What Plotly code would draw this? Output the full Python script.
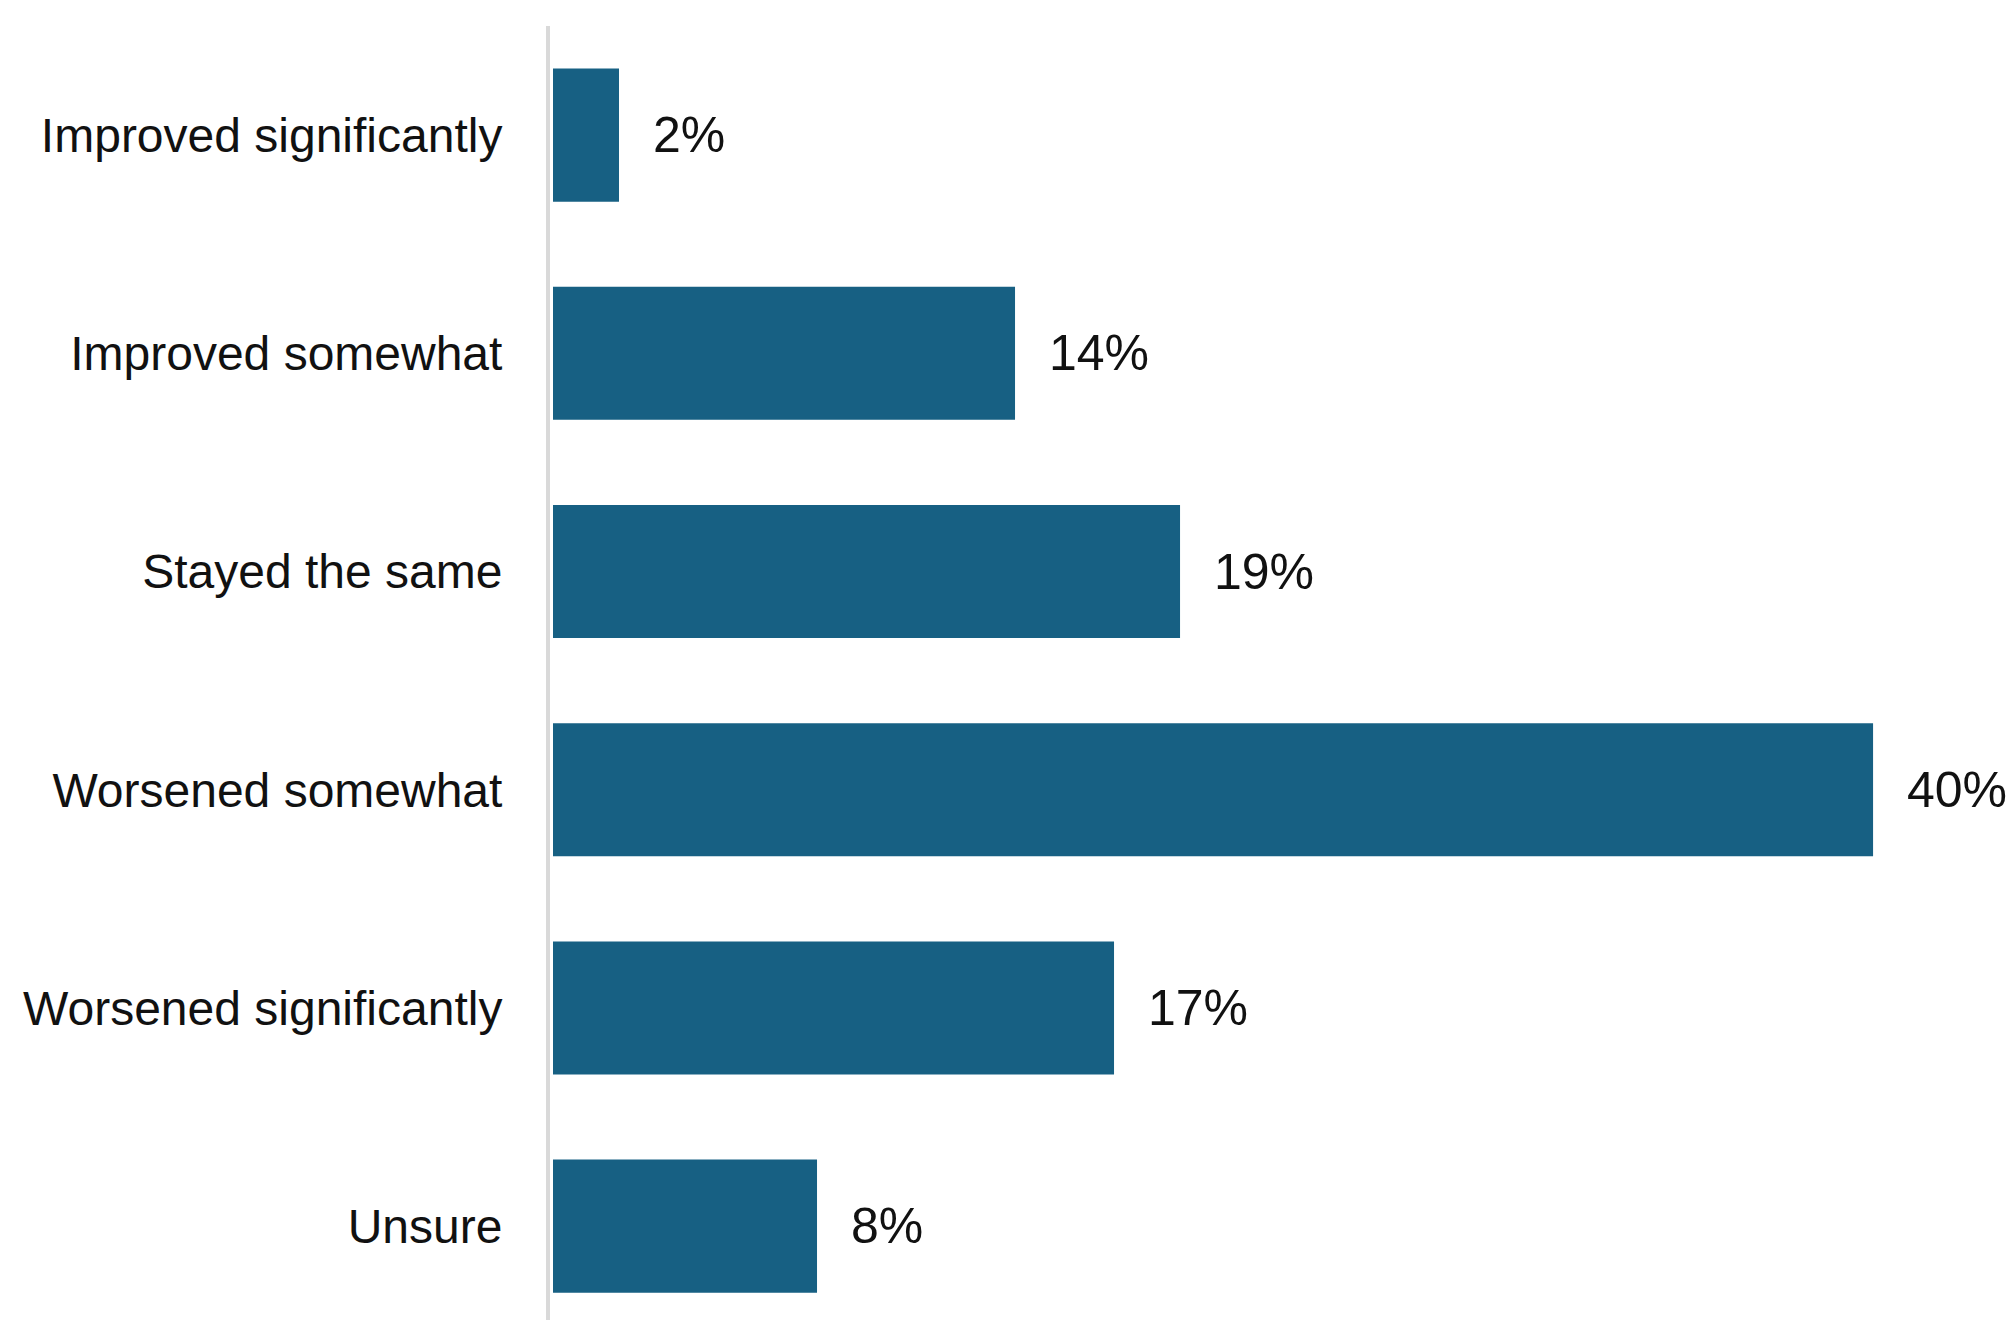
import plotly.graph_objects as go

categories = ["Improved significantly", "Improved somewhat", "Stayed the same",
              "Worsened somewhat", "Worsened significantly", "Unsure"]
values = [2, 14, 19, 40, 17, 8]
labels = [f"{v}%" for v in values]

BAR_COLOR = "#176083"
FONT = "Liberation Sans"

fig = go.Figure()
fig.add_trace(go.Bar(
    x=values, y=categories, orientation="h",
    marker=dict(color=BAR_COLOR, line=dict(width=0)),
    hoverinfo="skip",
))

for c, v, t in zip(categories, values, labels):
    fig.add_annotation(x=v, y=c, text=t, showarrow=False, xanchor="left",
                       yanchor="middle", xshift=32,
                       font=dict(family=FONT, size=50, color="#111111"))

fig.update_layout(
    width=2013, height=1320,
    margin=dict(l=550, r=0, t=26, b=0),
    paper_bgcolor="white", plot_bgcolor="white",
    showlegend=False,
    bargap=0.39,
    font=dict(family=FONT, size=48, color="#111111"),
)
fig.update_xaxes(range=[-0.091, 44.24], visible=False, showgrid=False, zeroline=False)
fig.update_yaxes(
    type="category", categoryorder="array", categoryarray=categories,
    range=[5.43, -0.5],
    showline=True, linecolor="#d9d9d9", linewidth=4,
    showgrid=False, zeroline=False,
    ticks="outside", ticklen=34, tickcolor="rgba(0,0,0,0)",
    tickfont=dict(family=FONT, size=48, color="#111111"),
)

fig.write_html("out.html")
